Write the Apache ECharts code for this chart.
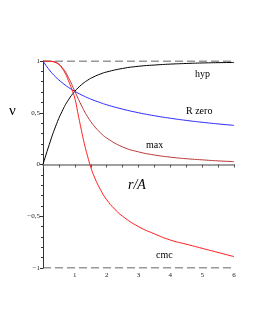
<!DOCTYPE html>
<html><head><meta charset="utf-8">
<script src="https://cdn.jsdelivr.net/npm/echarts@6/dist/echarts.min.js"></script>
<style>html,body{margin:0;padding:0;background:#fff}#c{width:255px;height:330px}</style>
</head><body><div id="c"></div>
<script>
// r/A sample positions and read-off values
const rHyp = [0,0.2,0.4,0.6,0.8,1.0,1.2,1.4,1.6,1.8,2.0,2.5,3,3.5,4,4.5,5,5.5,6];
const hyp  = [0,0.196,0.371,0.514,0.625,0.707,0.768,0.814,0.848,0.874,0.894,0.928,0.949,0.961,0.970,0.976,0.981,0.984,0.986];
const rZero = [0,0.2,0.4,0.6,0.8,1.0,1.2,1.4,1.6,1.8,2.0,2.5,3,3.5,4,4.5,5,5.5,6];
const zero  = [1,0.913,0.845,0.791,0.745,0.707,0.674,0.645,0.620,0.598,0.577,0.535,0.5,0.471,0.447,0.426,0.408,0.392,0.378];
const rMax = [0,0.2,0.4,0.6,0.8,1.0,1.2,1.4,1.6,1.8,2.0,2.5,3,3.5,4,4.5,5,5.5,6];
const maxV = [1,0.999,0.987,0.938,0.840,0.707,0.575,0.462,0.375,0.308,0.256,0.170,0.122,0.092,0.071,0.056,0.045,0.035,0.028];
const rCmc = [0,0.2,0.4,0.5,0.6,0.7,0.8,0.9,1.0,1.1,1.2,1.3,1.4,1.5,1.6,1.8,2.0,2.25,2.5,3,3.5,4,4.5,5,5.5,6];
const cmc  = [1,0.998,0.985,0.965,0.93,0.88,0.81,0.73,0.64,0.49,0.34,0.20,0.08,-0.025,-0.11,-0.24,-0.34,-0.43,-0.50,-0.60,-0.67,-0.73,-0.77,-0.81,-0.85,-0.89];
const asymX = [0,6];
const asymTop = [1,1];
const asymBot = [-1,-1];
const yTicks = {"1":"1","0.5":"0,5","0":"0","-0.5":"\u22120,5","-1":"\u22121"};
const curveNames = ["hyp","R zero","max","cmc"];

const pairs = (xs, ys) => xs.map((x,i)=>[x, ys[i]]);
const serif = '"Liberation Serif", "DejaVu Serif", serif';
const chart = echarts.init(document.getElementById('c'), null, {renderer:'canvas'});
chart.setOption({
  animation:false,
  grid:{left:43,right:21,top:61,bottom:62,containLabel:false},
  xAxis:{type:'value',min:0,max:6,interval:1,
    axisLine:{onZero:true,lineStyle:{color:'#a0a0a0',width:2}},
    axisTick:{show:true,inside:false,length:3,lineStyle:{color:'#555',width:1}},
    minorTick:{show:true,splitNumber:2,length:3,lineStyle:{color:'#555'}},
    splitLine:{show:false},
    axisLabel:{fontFamily:serif,fontSize:7,color:'#222',margin:4,
      formatter:v=> v===0?'':String(v)}},
  yAxis:{type:'value',min:-1,max:1,interval:0.5,
    axisLine:{show:true,lineStyle:{color:'#333',width:1}},
    axisTick:{show:true,length:3,lineStyle:{color:'#333'}},
    minorTick:{show:true,splitNumber:5,length:2,lineStyle:{color:'#333'}},
    splitLine:{show:false},
    axisLabel:{fontFamily:serif,fontSize:7,color:'#222',margin:3,
      formatter:v=> yTicks[String(v)] ?? ''}},
  series:[
    {type:'line',data:pairs(asymX,asymTop),showSymbol:false,lineStyle:{color:'#333',width:1,type:[8,4]},z:1},
    {type:'line',data:pairs(asymX,asymBot),showSymbol:false,lineStyle:{color:'#333',width:1,type:[8,4]},z:1},
    {name:curveNames[0],type:'line',data:pairs(rHyp,hyp),smooth:true,showSymbol:false,lineStyle:{color:'#000',width:1}},
    {name:curveNames[1],type:'line',data:pairs(rZero,zero),smooth:true,showSymbol:false,lineStyle:{color:'#2a2aff',width:1}},
    {name:curveNames[2],type:'line',data:pairs(rMax,maxV),smooth:true,showSymbol:false,lineStyle:{color:'#b83838',width:1}},
    {name:curveNames[3],type:'line',data:pairs(rCmc,cmc),smooth:true,showSymbol:false,lineStyle:{color:'#ff1a1a',width:1}}
  ],
  graphic:[
    {type:'text',left:9,top:104,style:{text:'\u03bd',font:'15px '+serif,fill:'#000'}},
    {type:'text',left:128,top:178,style:{text:'r/A',font:'italic 14px '+serif,fill:'#000'}},
    {type:'text',left:195,top:69,style:{text:curveNames[0],font:'10px '+serif,fill:'#000'}},
    {type:'text',left:186,top:106,style:{text:curveNames[1],font:'10px '+serif,fill:'#000'}},
    {type:'text',left:146,top:140,style:{text:curveNames[2],font:'10px '+serif,fill:'#000'}},
    {type:'text',left:156,top:250,style:{text:curveNames[3],font:'10px '+serif,fill:'#000'}}
  ]
});
</script></body></html>
